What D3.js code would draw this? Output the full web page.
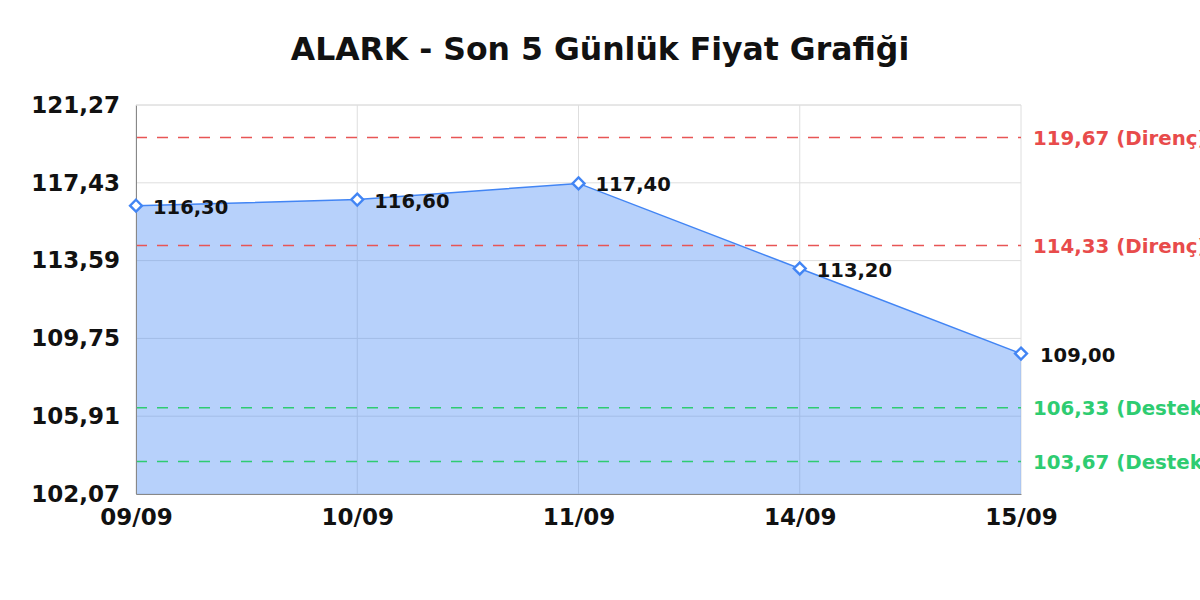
<!DOCTYPE html>
<html><head><meta charset="utf-8">
<script src="https://cdn.jsdelivr.net/npm/d3@7"></script>
<style>body{margin:0;background:#fff;}svg{display:block;font-family:"DejaVu Sans",sans-serif;}</style>
</head><body>
<svg id="c" width="1200" height="600"></svg>
<script>
const title = "ALARK - Son 5 Günlük Fiyat Grafiği";
const dates = ["09/09","10/09","11/09","14/09","15/09"];
const prices = [116.30,116.60,117.40,113.20,109.00];
const yTicks = [102.07,105.91,109.75,113.59,117.43,121.27];
const resistance = [119.67,114.33];
const support = [106.33,103.67];
const resLabel = "Direnç", supLabel = "Destek";

const fmt = v => v.toFixed(2).replace(".", ",");
const svg = d3.select("#c");
const L=136,R=1021,T=105,B=494;
const x = d3.scalePoint().domain(dates).range([L,R]);
const y = d3.scaleLinear().domain([yTicks[0], yTicks[yTicks.length-1]]).range([B,T]);

svg.append("text").attr("x",600).attr("y",60).attr("text-anchor","middle")
  .attr("font-size",31.5).attr("font-weight","bold").attr("fill","#111").text(title);

// grid
const g = svg.append("g");
g.selectAll(".hg").data(yTicks).join("line").attr("x1",L).attr("x2",R)
  .attr("y1",d=>y(d)).attr("y2",d=>y(d)).attr("stroke","#dedede").attr("stroke-width",1);
g.selectAll(".vg").data(dates).join("line").attr("y1",T).attr("y2",B)
  .attr("x1",d=>x(d)).attr("x2",d=>x(d)).attr("stroke","#dedede").attr("stroke-width",1);

const data = dates.map((d,i)=>({d,v:prices[i]}));
svg.append("path").datum(data)
  .attr("d", d3.area().x(p=>x(p.d)).y0(B).y1(p=>y(p.v)))
  .attr("fill","#4285f4").attr("fill-opacity",0.38);
svg.append("path").datum(data)
  .attr("d", d3.line().x(p=>x(p.d)).y(p=>y(p.v)))
  .attr("fill","none").attr("stroke","#4285f4").attr("stroke-width",1.5);

// reference lines
const refs = resistance.map(v=>({v,c:"#e85555",tc:"#e84b4b",t:resLabel}))
  .concat(support.map(v=>({v,c:"#2ecc71",tc:"#2ecc71",t:supLabel})));
svg.selectAll(".ref").data(refs).join("line").attr("x1",L).attr("x2",R)
  .attr("y1",d=>y(d.v)).attr("y2",d=>y(d.v)).attr("stroke",d=>d.c)
  .attr("stroke-width",1.5).attr("stroke-dasharray","11,10");
svg.selectAll(".reft").data(refs).join("text").attr("x",R+12).attr("y",d=>y(d.v))
  .attr("dy","0.36em").attr("font-size",19.8).attr("font-weight","bold")
  .attr("fill",d=>d.tc).text(d=>`${fmt(d.v)} (${d.t})`);

// axes
const ya = d3.axisLeft(y).tickValues(yTicks).tickFormat(fmt).tickSize(0).tickPadding(16);
const yg = svg.append("g").attr("transform",`translate(${L},0)`).call(ya);
yg.select(".domain").attr("stroke","#888");
yg.selectAll("text").attr("font-size",23).attr("font-weight","bold").attr("fill","#111")
  .attr("font-family","DejaVu Sans");
const xa = d3.axisBottom(x).tickSize(0).tickPadding(15);
const xg = svg.append("g").attr("transform",`translate(0,${B})`).call(xa);
xg.select(".domain").attr("stroke","#888");
xg.selectAll("text").attr("font-size",23).attr("font-weight","bold").attr("fill","#111")
  .attr("font-family","DejaVu Sans");
svg.append("line").attr("x1",L).attr("x2",R).attr("y1",T).attr("y2",T).attr("stroke","#dedede");

// markers
const dia = d3.symbol().type(d3.symbolDiamond2).size(90);
svg.selectAll(".m").data(data).join("path").attr("d",dia)
  .attr("transform",p=>`translate(${x(p.d)},${y(p.v)})`)
  .attr("fill","#fff").attr("stroke","#4285f4").attr("stroke-width",2.4);
svg.selectAll(".pl").data(data).join("text")
  .attr("x",(p,i)=>x(p.d)+(i===data.length-1?19:17)).attr("y",p=>y(p.v)+1)
  .attr("dy","0.36em").attr("font-size",19.5).attr("font-weight","bold").attr("fill","#111")
  .text(p=>fmt(p.v));
</script>
</body></html>
